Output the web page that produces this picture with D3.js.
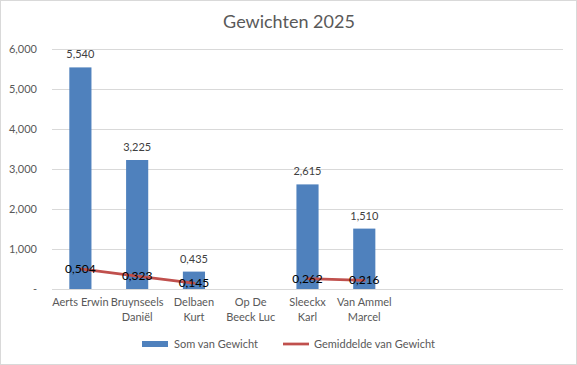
<!DOCTYPE html>
<meta charset="utf-8">
<style>
body { margin: 0; background: #fff; }
text { font-family: Lato, "Open Sans", sans-serif; }
.grid line { stroke: #d9d9d9; shape-rendering: crispEdges; }
</style>
<body>
<div id="draw"></div>
<script src="https://d3js.org/d3.v7.min.js"></script>
<script>
// data
var names = [["Aerts Erwin"], ["Bruynseels", "Daniël"], ["Delbaen", "Kurt"], ["Op De", "Beeck Luc"],
             ["Sleeckx", "Karl"], ["Van Ammel", "Marcel"], [""], [""], [""]];
var somGewicht = [5540, 3225, 435, null, 2615, 1510, null, null, null];
var gemGewicht = [0.504, 0.323, 0.145, null, 0.262, 0.216, null, null, null];
var yTicks = [0, 1000, 2000, 3000, 4000, 5000, 6000];

var W = 577, H = 365;
var plotL = 52, plotR = 563, plotT = 49, plotB = 289;

// labels in the sheet show thousands as "5,540" and also "0,435"
function fmtSom(v) {
  return Math.floor(v / 1000) + "," + d3.format("03d")(v % 1000);
}

var svg = d3.select("#draw").append("svg")
    .attr("width", W)
    .attr("height", H);

svg.append("rect")
    .attr("x", 0.5).attr("y", 0.5)
    .attr("width", W - 1).attr("height", H - 1)
    .attr("fill", "#fff")
    .attr("stroke", "#d9d9d9");

svg.append("text")
    .attr("x", 289).attr("y", 28)
    .attr("text-anchor", "middle")
    .attr("font-size", 18)
    .attr("fill", "#595959")
    .text("Gewichten 2025");

var x = d3.scaleBand()
    .domain(d3.range(names.length))
    .range([plotL, plotR])
    .paddingInner(0.61)
    .paddingOuter(0.305);

var y = d3.scaleLinear().domain([0, 6000]).range([plotB, plotT]);
var y2 = d3.scaleLinear().domain([0, 6]).range([plotB, plotT]);

// gridlines
svg.append("g").attr("class", "grid")
  .selectAll("line")
  .data(yTicks)
  .enter().append("line")
    .attr("x1", plotL).attr("x2", plotR)
    .attr("y1", function(d) { return Math.round(y(d)) + 0.5; })
    .attr("y2", function(d) { return Math.round(y(d)) + 0.5; });

// y axis labels
var yAxis = d3.axisLeft(y)
    .tickValues(yTicks)
    .tickSize(0)
    .tickPadding(0)
    .tickFormat(function(d) { return d === 0 ? "-" : d3.format(",")(d); });

var ya = svg.append("g")
    .attr("transform", "translate(37,0)")
    .call(yAxis);
ya.select(".domain").remove();
ya.selectAll("text")
    .attr("font-size", 11)
    .attr("font-family", "Lato, sans-serif")
    .attr("fill", "#595959");

// bars
var barData = somGewicht.map(function(v, i) { return {i: i, v: v}; })
    .filter(function(d) { return d.v != null; });

svg.selectAll(".bar")
    .data(barData)
  .enter().append("rect")
    .attr("class", "bar")
    .attr("x", function(d) { return x(d.i); })
    .attr("width", x.bandwidth())
    .attr("y", function(d) { return y(d.v); })
    .attr("height", function(d) { return y(0) - y(d.v); })
    .attr("fill", "#4f81bd");

svg.selectAll(".barlabel")
    .data(barData)
  .enter().append("text")
    .attr("class", "barlabel")
    .attr("x", function(d) { return x(d.i) + x.bandwidth() / 2; })
    .attr("y", function(d) { return y(d.v) - 9; })
    .attr("text-anchor", "middle")
    .attr("font-size", 11)
    .attr("fill", "#404040")
    .text(function(d) { return fmtSom(d.v); });

// average line on a hidden secondary axis
var lineData = gemGewicht.map(function(v, i) { return {i: i, v: v}; });
var line = d3.line()
    .defined(function(d) { return d.v != null; })
    .x(function(d) { return x(d.i) + x.bandwidth() / 2; })
    .y(function(d) { return y2(d.v); });

svg.append("path")
    .datum(lineData)
    .attr("d", line)
    .attr("fill", "none")
    .attr("stroke", "#c0504d")
    .attr("stroke-width", 2.75)
    .attr("stroke-linejoin", "round")
    .attr("stroke-linecap", "round");

svg.selectAll(".linelabel")
    .data(lineData.filter(function(d) { return d.v != null; }))
  .enter().append("text")
    .attr("class", "linelabel")
    .attr("x", function(d) { return x(d.i) + x.bandwidth() / 2; })
    .attr("y", function(d) { return y2(d.v) + 4; })
    .attr("text-anchor", "middle")
    .attr("font-size", 12)
    .attr("fill", "#000")
    .text(function(d) { return d3.format(".3f")(d.v).replace(".", ","); });

// category labels
var cat = svg.selectAll(".cat")
    .data(names)
  .enter().append("text")
    .attr("class", "cat")
    .attr("text-anchor", "middle")
    .attr("font-size", 11)
    .attr("fill", "#595959")
    .attr("transform", function(d, i) { return "translate(" + (x(i) + x.bandwidth() / 2) + ",306)"; });

cat.selectAll("tspan")
    .data(function(d) { return d; })
  .enter().append("tspan")
    .attr("x", 0)
    .attr("dy", function(d, j) { return j === 0 ? 0 : 15; })
    .text(function(d) { return d; });

// legend
var legend = svg.append("g");
legend.append("rect")
    .attr("x", 142).attr("y", 341)
    .attr("width", 26).attr("height", 6)
    .attr("fill", "#4f81bd");
legend.append("text")
    .attr("x", 174).attr("y", 348)
    .attr("font-size", 11)
    .attr("fill", "#595959")
    .text("Som van Gewicht");
legend.append("line")
    .attr("x1", 283).attr("x2", 309)
    .attr("y1", 344).attr("y2", 344)
    .attr("stroke", "#c0504d")
    .attr("stroke-width", 2.75);
legend.append("text")
    .attr("x", 314).attr("y", 348)
    .attr("font-size", 11)
    .attr("fill", "#595959")
    .text("Gemiddelde van Gewicht");
</script>
</body>
